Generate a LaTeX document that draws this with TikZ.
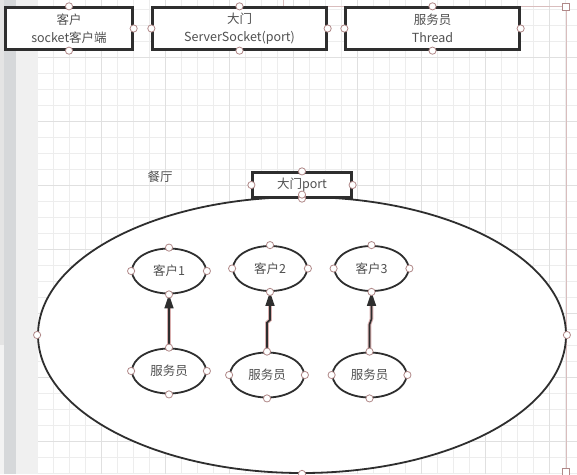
\documentclass[tikz,border=0pt]{standalone}
\usepackage{fontspec}
\setmainfont{Noto Sans CJK SC}
\usetikzlibrary{shapes.geometric,arrows.meta,calc}
\definecolor{gridc}{HTML}{EDEDED}
\definecolor{gridm}{HTML}{E0E0E0}
\definecolor{linec}{HTML}{2E2E2E}
\definecolor{txtc}{HTML}{505050}
\definecolor{hdlc}{HTML}{B08888}
\definecolor{selc}{HTML}{D9BDBD}
\definecolor{pinkc}{HTML}{D9AFAF}
\definecolor{panA}{HTML}{E4E4E4}
\definecolor{panB}{HTML}{F3F3F3}
\definecolor{panC}{HTML}{D6D8DA}
\definecolor{panD}{HTML}{F0F0F0}
\tikzset{
  topbox/.style={draw=linec, line width=2.3pt, fill=white, minimum height=42, inner sep=0pt,
    align=center, text=txtc, font=\fontsize{12.5}{18.5}\selectfont},
  gatebox/.style={draw=linec, line width=2.2pt, fill=white, minimum width=99, minimum height=25,
    inner sep=0pt, text=txtc, font=\fontsize{12.5}{15}\selectfont},
  bigell/.style={ellipse, draw=linec, line width=1.8pt, fill=white, minimum width=528,
    minimum height=276, inner sep=0pt},
  smell/.style={ellipse, draw=linec, line width=1.8pt, fill=white, minimum width=74,
    minimum height=45, inner sep=0pt, text=txtc, font=\fontsize{12.5}{15}\selectfont},
  lbl/.style={text=txtc, font=\fontsize{12.5}{15}\selectfont, inner sep=0pt},
  handle/.style={draw=hdlc, fill=white, line width=0.8pt},
  halo/.style={draw=pinkc, line width=3.6pt},
  arr/.style={draw=linec, line width=1.6pt, -{Triangle[length=14pt,width=9pt]}},
}
\begin{document}
\begin{tikzpicture}[x=1pt,y=-1pt]
\useasboundingbox (0,0) rectangle (577,474);
\fill[white] (0,0) rectangle (577,474);
% grid
\foreach \i in {0,...,34} {
  \draw[gridc, line width=0.6pt] ({37.7+16*\i},0) -- ({37.7+16*\i},474);
}
\foreach \i in {0,...,29} {
  \draw[gridc, line width=0.6pt] (38,{9.7+16*\i}) -- (577,{9.7+16*\i});
}
\foreach \i in {1,...,8} {
  \draw[gridm, line width=0.7pt] ({37.7+64*\i},0) -- ({37.7+64*\i},474);
}
\foreach \i in {0,...,6} {
  \draw[gridm, line width=0.7pt] (38,{57.7+64*\i}) -- (577,{57.7+64*\i});
}
% left panel
\fill[panA] (0,0) rectangle (4,345);
\fill[panB] (0,345) rectangle (4,474);
\fill[panC] (4,0) rectangle (16,474);
\fill[panD] (16,0) rectangle (37.5,474);
% selection lines
\draw[selc, line width=0.8pt] (283,0) -- (283,6.5) -- (566,6.5) -- (566,471);

% top boxes
\node[topbox, minimum width=127] (b1) at (69,28.5) {客户\\socket客户端};
\node[topbox, minimum width=174] (b2) at (239.5,28.5) {大门\\ServerSocket(port)};
\node[topbox, minimum width=174] (b3) at (432.5,28.5) {服务员\\Thread};

% restaurant
\node[bigell] (hall) at (302,335) {};
\node[lbl] (hallname) at (160,177) {餐厅};
\node[gatebox] (gate) at (302,185) {大门port};

\node[smell] (c1) at (169,271) {客户1};
\node[smell] (c2) at (270,268.5) {客户2};
\node[smell] (c3) at (371.5,268.5) {客户3};
\node[smell] (s1) at (169,371) {服务员};
\node[smell] (s2) at (267,375) {服务员};
\node[smell] (s3) at (369.5,375) {服务员};

% arrows
\draw[halo, shorten >=12pt] (s1.north) -- (c1.south);
\draw[arr] (s1.north) -- (c1.south);
\draw[halo, shorten >=12pt] (s2.north) -- ($(s2.north)+(0,-29)$) -- ($(c2.south)+(0,28)$) -- (c2.south);
\draw[arr] (s2.north) -- ($(s2.north)+(0,-29)$) -- ($(c2.south)+(0,28)$) -- (c2.south);
\draw[halo, shorten >=12pt] (s3.north) -- ($(s3.north)+(0,-27)$) -- ($(c3.south)+(0,27)$) -- (c3.south);
\draw[arr] (s3.north) -- ($(s3.north)+(0,-27)$) -- ($(c3.south)+(0,27)$) -- (c3.south);

% handles
\foreach \n in {c1,c2,c3,s1,s2,s3,hall,gate,b2,b3} {
  \foreach \a in {north,south,east,west} {
    \draw[handle] (\n.\a) circle (3.6);
  }
}
\foreach \a in {north,south,east} {
  \draw[handle] (b1.\a) circle (3.6);
}
\draw[handle] (gate.south) ++(0,-4) circle (3.6);
\draw[handle] (562.5,3) rectangle (569.5,10);
\draw[handle] (562.5,468) rectangle (569.5,475);
\end{tikzpicture}
\end{document}
